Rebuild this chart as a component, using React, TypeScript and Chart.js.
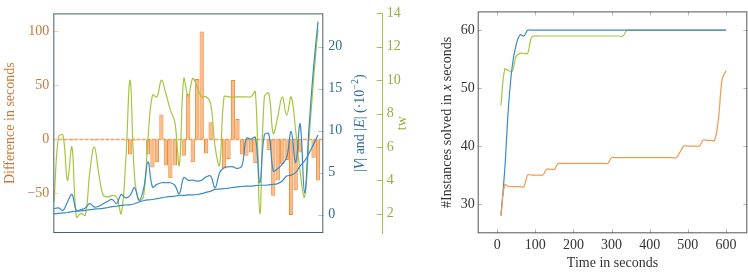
import React, { useEffect, useRef } from 'react';
import { Chart, registerables } from 'chart.js';

Chart.register(...registerables);

// ---------- Left panel data (60 instances) ----------
const instanceIdx = [
  0, 1, 2, 3, 4, 5, 6, 7, 8, 9, 10, 11, 12, 13, 14, 15, 16, 17, 18, 19,
  20, 21, 22, 23, 24, 25, 26, 27, 28, 29, 30, 31, 32, 33, 34, 35, 36, 37, 38, 39,
  40, 41, 42, 43, 44, 45, 46, 47, 48, 49, 50, 51, 52, 53, 54, 55, 56, 57, 58, 59,
];
const diffSeconds = [
  0, 0, 0, 0, -1, 0, 0, 0, 0, -1,
  0, 0, 0, 0, 0, 0, -1, -14, -1, 0,
  0, -14, -26, -21, 23, -24, -36, -24, 0, -15,
  42, -21, 56, 100, -13, 16, 0, 0, -27, -18,
  55, 19, -14, -15, -12, -22, 0, 0, -10, -52,
  -38, -23, -19, -70, -47, -12, 0, 0, -17, -38,
];
const edgesE = [
  0.7, 0.8, 0.5, 1.5, 2.4, 0.5, 0.6, 0.8, 1.3, 0.9,
  1.0, 1.3, 1.6, 1.8, 1.3, 2.4, 2.0, 2.3, 3.2, 1.7,
  3.0, 6.3, 3.3, 3.6, 3.8, 3.8, 3.8, 3.5, 2.5, 4.4,
  4.1, 4.1, 4.0, 4.1, 4.5, 4.6, 3.2, 5.0, 5.6, 5.7,
  5.7, 5.5, 5.8, 9.1, 9.0, 9.2, 3.8, 9.5, 9.6, 5.2,
  5.5, 6.0, 6.8, 9.9, 6.2, 10.8, 2.6, 10.5, 17.5, 23.0,
];
const verticesV = [
  0.1, 0.15, 0.2, 0.25, 0.35, 0.4, 0.45, 0.5, 0.6, 0.65,
  0.7, 0.75, 0.85, 0.95, 1.0, 1.1, 1.15, 1.2, 1.3, 1.5,
  1.65, 1.75, 1.8, 1.9, 2.0, 2.1, 2.15, 2.2, 2.3, 2.3,
  2.35, 2.35, 2.4, 2.5, 2.65, 2.8, 3.0, 3.05, 3.1, 3.15,
  3.25, 3.3, 3.35, 3.4, 3.4, 3.45, 3.5, 3.5, 3.55, 3.6,
  3.7, 4.0, 4.6, 4.7, 5.0, 5.8, 6.4, 7.3, 8.4, 9.5,
];
const treewidth = [
  2.7, 6.6, 6.7, 4.0, 6.0, 1.8, 2.0, 1.9, 4.5, 6.0,
  4.4, 3.1, 3.0, 3.1, 3.0, 2.0, 5.0, 10.0, 4.2, 2.8,
  3.0, 6.5, 9.1, 9.0, 10.0, 9.2, 8.2, 7.5, 4.9, 10.1,
  9.0, 10.1, 9.6, 9.0, 9.0, 8.6, 6.0, 4.9, 9.0, 9.0,
  9.0, 9.0, 9.0, 9.0, 9.0, 9.3, 2.0, 9.0, 9.2, 6.8,
  7.8, 9.0, 7.9, 9.0, 7.0, 4.5, 3.0, 6.5, 10.0, 13.1,
];
const diffTicks = [-50, 0, 50, 100];
const graphTicks = [0, 5, 10, 15, 20];
const twTicks = [2, 4, 6, 8, 10, 12, 14];

// ---------- Right panel data ----------
const timeSec = [
  10, 20, 30, 40, 50, 60, 70, 80, 90, 100, 110, 120, 130, 140, 150, 160, 170, 180, 190, 200,
  210, 220, 230, 240, 250, 260, 270, 280, 290, 300, 310, 320, 330, 340, 350, 360, 370, 380, 390, 400,
  410, 420, 430, 440, 450, 460, 470, 480, 490, 500, 510, 520, 530, 540, 550, 560, 570, 580, 590, 600,
];
const solvedOrange = [
  28, 33.3, 33, 33, 33, 33, 33, 35, 35, 35,
  35, 35, 36, 36, 36, 37, 37, 37, 37, 37,
  37, 37, 37, 37, 37, 37, 37, 37, 37, 38,
  38, 38, 38, 38, 38, 38, 38, 38, 38, 38,
  38, 38, 38, 38, 38, 38, 38, 39, 40, 40,
  40, 40, 40, 41, 41, 41, 41, 44.5, 51.5, 53,
];
const solvedBlue = [
  28, 36, 47, 54, 57.5, 59.2, 59, 60, 60, 60,
  60, 60, 60, 60, 60, 60, 60, 60, 60, 60,
  60, 60, 60, 60, 60, 60, 60, 60, 60, 60,
  60, 60, 60, 60, 60, 60, 60, 60, 60, 60,
  60, 60, 60, 60, 60, 60, 60, 60, 60, 60,
  60, 60, 60, 60, 60, 60, 60, 60, 60, 60,
];
const solvedGreen = [
  47, 53.3, 53, 53, 55.5, 56, 56, 56, 58.8, 59,
  59, 59, 59, 59, 59, 59, 59, 59, 59, 59,
  59, 59, 59, 59, 59, 59, 59, 59, 59, 59,
  59, 59, 59, 60, 60, 60, 60, 60, 60, 60,
  60, 60, 60, 60, 60, 60, 60, 60, 60, 60,
  60, 60, 60, 60, 60, 60, 60, 60, 60, 60,
];
const timeTicks = [0, 100, 200, 300, 400, 500, 600];
const solvedTicks = [30, 40, 50, 60];

const FONT = '"Liberation Serif", "Times New Roman", serif';
const FS = 14;
const ORANGE_TXT = '#c8783a';
const BLUE_TXT = '#2f6e96';
const GREEN_TXT = '#94ae3c';
const BLUE_LINE = '#3a8bc3';
const GREEN_LINE = '#a6c640';
const ORANGE_LINE = '#f29a4e';

type Part = { text: string; italic?: boolean; size?: number; dy?: number };

function drawRich(ctx: CanvasRenderingContext2D, parts: Part[], cx: number, cy: number, color: string, rot: number) {
  ctx.save();
  ctx.translate(cx, cy);
  ctx.rotate(rot);
  ctx.fillStyle = color;
  ctx.textBaseline = 'middle';
  ctx.textAlign = 'left';
  const fonts = parts.map((p) => `${p.italic ? 'italic ' : ''}${p.size || FS}px ${FONT}`);
  const widths = parts.map((p, i) => {
    ctx.font = fonts[i];
    return ctx.measureText(p.text).width;
  });
  const total = widths.reduce((a, b) => a + b, 0);
  let x = -total / 2;
  parts.forEach((p, i) => {
    ctx.font = fonts[i];
    ctx.fillText(p.text, x, p.dy || 0);
    x += widths[i];
  });
  ctx.restore();
}

function hTicks(ctx: CanvasRenderingContext2D, scale: any, x0: number, x1: number, color: string) {
  ctx.save();
  ctx.strokeStyle = color;
  ctx.lineWidth = 1;
  scale.ticks.forEach((t: any) => {
    const p = Math.round(scale.getPixelForValue(t.value)) + 0.5;
    ctx.beginPath();
    ctx.moveTo(x0, p);
    ctx.lineTo(x1, p);
    ctx.stroke();
  });
  ctx.restore();
}

function vTicks(ctx: CanvasRenderingContext2D, scale: any, y0: number, y1: number, color: string) {
  ctx.save();
  ctx.strokeStyle = color;
  ctx.lineWidth = 1;
  scale.ticks.forEach((t: any) => {
    const p = Math.round(scale.getPixelForValue(t.value)) + 0.5;
    ctx.beginPath();
    ctx.moveTo(p, y0);
    ctx.lineTo(p, y1);
    ctx.stroke();
  });
  ctx.restore();
}

const fixedTicks = (vals: number[]) => (s: any) => {
  s.ticks = vals.map((v) => ({ value: v }));
};

const minusFmt = (v: any) => String(v).replace('-', '\u2212');

const leftDecor = {
  id: 'leftDecor',
  beforeDatasetsDraw(chart: any) {
    const { ctx, chartArea: a, scales } = chart;
    const y0 = scales.y.getPixelForValue(0);
    ctx.save();
    ctx.strokeStyle = '#f2a262';
    ctx.lineWidth = 1.4;
    ctx.setLineDash([4, 1.2]);
    ctx.beginPath();
    ctx.moveTo(a.left, y0);
    ctx.lineTo(a.right, y0);
    ctx.stroke();
    ctx.restore();
  },
  afterDatasetsDraw(chart: any) {
    const { ctx, chartArea: a, scales } = chart;
    hTicks(ctx, scales.y, a.left, a.left + 5, '#f5cfae');
    hTicks(ctx, scales.yB, a.right - 5, a.right, '#a9c6da');
    const gl = scales.yG.left;
    hTicks(ctx, scales.yG, gl - 6, gl, GREEN_LINE);
    ctx.save();
    ctx.strokeStyle = '#46606c';
    ctx.lineWidth = 1;
    ctx.strokeRect(a.left + 0.5, a.top + 0.5, a.right - a.left - 1, a.bottom - a.top - 1);
    ctx.restore();
  },
  afterDraw(chart: any) {
    const { ctx, chartArea: a } = chart;
    const cy = (a.top + a.bottom) / 2;
    drawRich(ctx, [{ text: 'Difference in seconds' }], 10, cy, ORANGE_TXT, -Math.PI / 2);
    drawRich(
      ctx,
      [
        { text: '|' },
        { text: 'V', italic: true },
        { text: '| and |' },
        { text: 'E', italic: true },
        { text: '| (\u00b710' },
        { text: '\u22122', size: 10, dy: -5 },
        { text: ')' },
      ],
      360,
      cy,
      BLUE_TXT,
      -Math.PI / 2
    );
    drawRich(ctx, [{ text: 'tw' }], 402, cy, GREEN_TXT, -Math.PI / 2);
  },
};

const rightDecor = {
  id: 'rightDecor',
  afterDatasetsDraw(chart: any) {
    const { ctx, chartArea: a, scales } = chart;
    const c = '#b4b4b4';
    vTicks(ctx, scales.x, a.bottom, a.bottom - 4, c);
    vTicks(ctx, scales.x, a.top, a.top + 4, c);
    hTicks(ctx, scales.y, a.left, a.left + 4, c);
    hTicks(ctx, scales.y, a.right - 4, a.right, c);
    ctx.save();
    ctx.strokeStyle = '#555555';
    ctx.lineWidth = 1;
    ctx.strokeRect(a.left + 0.5, a.top + 0.5, a.right - a.left - 1, a.bottom - a.top - 1);
    ctx.restore();
  },
  afterDraw(chart: any) {
    const { ctx, chartArea: a } = chart;
    const cy = (a.top + a.bottom) / 2;
    drawRich(
      ctx,
      [{ text: '#Instances solved in ' }, { text: 'x', italic: true }, { text: ' seconds' }],
      27.5,
      cy,
      '#333333',
      -Math.PI / 2
    );
    drawRich(ctx, [{ text: 'Time in seconds' }], (a.left + a.right) / 2, 263, '#333333', 0);
  },
};

export default function App() {
  const leftRef = useRef<HTMLCanvasElement>(null);
  const rightRef = useRef<HTMLCanvasElement>(null);

  useEffect(() => {
    const tickFont = { family: FONT, size: FS };
    const lineDs = (data: number[], color: string, axis: string) => ({
      type: 'line' as const,
      data: instanceIdx.map((x, i) => ({ x, y: data[i] })),
      yAxisID: axis,
      borderColor: color,
      borderWidth: 1.2,
      pointRadius: 0,
      tension: 0.4,
      fill: false,
      order: 0,
    });

    const left = new Chart(leftRef.current as HTMLCanvasElement, {
      type: 'bar',
      data: {
        datasets: [
          lineDs(verticesV, BLUE_LINE, 'yB'),
          lineDs(edgesE, BLUE_LINE, 'yB'),
          lineDs(treewidth, GREEN_LINE, 'yG'),
          {
            type: 'bar',
            data: instanceIdx.map((x, i) => ({ x, y: diffSeconds[i] })),
            yAxisID: 'y',
            backgroundColor: 'rgba(245,165,100,0.75)',
            borderColor: '#ef8a36',
            borderWidth: 1,
            barPercentage: 0.96,
            categoryPercentage: 1,
            order: 1,
          },
        ] as any,
      },
      options: {
        responsive: false,
        animation: false,
        devicePixelRatio: 1,
        layout: { padding: { top: 9.3, bottom: 39, left: 0, right: 0 } },
        plugins: { legend: { display: false }, tooltip: { enabled: false } },
        scales: {
          x: { type: 'linear', min: -0.16, max: 60.18, offset: false, display: false },
          y: {
            position: 'left',
            min: -86.6,
            max: 116.7,
            afterBuildTicks: fixedTicks(diffTicks),
            afterFit: (s: any) => {
              s.width = 53.3;
            },
            ticks: { color: ORANGE_TXT, font: tickFont, padding: 4, callback: minusFmt },
            grid: { display: false, drawTicks: false },
            border: { display: false },
          },
          yB: {
            position: 'right',
            min: -2.19,
            max: 23.98,
            afterBuildTicks: fixedTicks(graphTicks),
            afterFit: (s: any) => {
              s.width = 59.4;
            },
            ticks: { color: BLUE_TXT, font: tickFont, padding: 5 },
            grid: { display: false, drawTicks: false },
            border: { display: false },
          },
          yG: {
            position: 'right',
            min: 0.84,
            max: 14,
            afterBuildTicks: fixedTicks(twTicks),
            afterFit: (s: any) => {
              s.width = 37.3;
            },
            ticks: { color: GREEN_TXT, font: tickFont, padding: 4 },
            grid: { display: false, drawTicks: false },
            border: { display: true, color: GREEN_LINE, width: 1 },
          },
        },
      } as any,
      plugins: [leftDecor],
    });

    const rline = (data: number[], color: string) => ({
      data: timeSec.map((x, i) => ({ x, y: data[i] })),
      borderColor: color,
      borderWidth: 1.2,
      pointRadius: 0,
      tension: 0.4,
      fill: false,
    });

    const right = new Chart(rightRef.current as HTMLCanvasElement, {
      type: 'line',
      data: {
        datasets: [rline(solvedOrange, ORANGE_LINE), rline(solvedBlue, BLUE_LINE), rline(solvedGreen, GREEN_LINE)],
      },
      options: {
        responsive: false,
        animation: false,
        devicePixelRatio: 1,
        layout: { padding: { top: 9.3, bottom: 0, left: 0, right: 0.7 } },
        plugins: { legend: { display: false }, tooltip: { enabled: false } },
        scales: {
          x: {
            type: 'linear',
            min: -51,
            max: 656,
            afterBuildTicks: fixedTicks(timeTicks),
            afterFit: (s: any) => {
              s.height = 38.7;
            },
            ticks: { color: '#333333', font: tickFont, padding: 4, maxRotation: 0, autoSkip: false },
            grid: { display: false, drawTicks: false },
            border: { display: false },
          },
          y: {
            min: 24.94,
            max: 63.25,
            afterBuildTicks: fixedTicks(solvedTicks),
            afterFit: (s: any) => {
              s.width = 57.7;
            },
            ticks: { color: '#333333', font: tickFont, padding: 3 },
            grid: { display: false, drawTicks: false },
            border: { display: false },
          },
        },
      } as any,
      plugins: [rightDecor],
    });

    return () => {
      left.destroy();
      right.destroy();
    };
  }, []);

  return (
    <div style={{ position: 'absolute', left: 0, top: 0, width: 748, height: 272, background: '#ffffff' }}>
      <canvas ref={leftRef} width={420} height={272} style={{ position: 'absolute', left: 0, top: 0, width: 420, height: 272 }} />
      <canvas ref={rightRef} width={328} height={272} style={{ position: 'absolute', left: 420, top: 0, width: 328, height: 272 }} />
    </div>
  );
}
